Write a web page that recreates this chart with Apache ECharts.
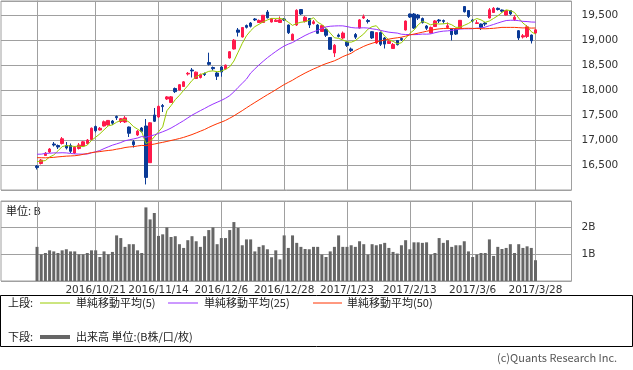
<!DOCTYPE html>
<html><head><meta charset="utf-8">
<script src="https://cdn.jsdelivr.net/npm/echarts@6/dist/echarts.min.js"></script>
<style>html,body{margin:0;padding:0;background:#fff}#c{width:633px;height:370px}</style>
</head><body><div id="c"></div>
<script>
const dates = ["2016/9/30",
"2016/10/3","2016/10/4","2016/10/5","2016/10/6","2016/10/7","2016/10/11","2016/10/12","2016/10/13","2016/10/14","2016/10/17","2016/10/18","2016/10/19","2016/10/20","2016/10/21","2016/10/24","2016/10/25","2016/10/26","2016/10/27","2016/10/28","2016/10/31",
"2016/11/1","2016/11/2","2016/11/4","2016/11/7","2016/11/8","2016/11/9","2016/11/10","2016/11/11","2016/11/14","2016/11/15","2016/11/16","2016/11/17","2016/11/18","2016/11/21","2016/11/22","2016/11/24","2016/11/25","2016/11/28","2016/11/29","2016/11/30",
"2016/12/1","2016/12/2","2016/12/5","2016/12/6","2016/12/7","2016/12/8","2016/12/9","2016/12/12","2016/12/13","2016/12/14","2016/12/15","2016/12/16","2016/12/19","2016/12/20","2016/12/21","2016/12/22","2016/12/26","2016/12/27","2016/12/28","2016/12/29","2016/12/30",
"2017/1/4","2017/1/5","2017/1/6","2017/1/10","2017/1/11","2017/1/12","2017/1/13","2017/1/16","2017/1/17","2017/1/18","2017/1/19","2017/1/20","2017/1/23","2017/1/24","2017/1/25","2017/1/26","2017/1/27","2017/1/30","2017/1/31",
"2017/2/1","2017/2/2","2017/2/3","2017/2/6","2017/2/7","2017/2/8","2017/2/9","2017/2/10","2017/2/13","2017/2/14","2017/2/15","2017/2/16","2017/2/17","2017/2/20","2017/2/21","2017/2/22","2017/2/23","2017/2/24","2017/2/27","2017/2/28",
"2017/3/1","2017/3/2","2017/3/3","2017/3/6","2017/3/7","2017/3/8","2017/3/9","2017/3/10","2017/3/13","2017/3/14","2017/3/15","2017/3/16","2017/3/17","2017/3/21","2017/3/22","2017/3/23","2017/3/24","2017/3/27","2017/3/28"];

const opens = [16480,16530,16690,16760,16920,16890,16930,16890,16890,16740,
16830,16880,16930,17010,17270,17200,17280,17300,17380,17470,
17370,17360,17260,16966,17100,17240,17280,16546,17500,17460,
17690,17820,17750,18030,18000,18070,18320,18400,18230,18250,
18330,18550,18450,18340,18460,18420,18640,18820,19200,19060,
19290,19340,19420,19350,19350,19560,19360,19370,19350,19420,
19300,19000,19300,19610,19370,19430,19330,19300,19170,19213,
19050,18740,19100,19040,18960,18820,19110,19240,19440,19390,
19166,18940,19150,19040,18930,18830,18990,19030,19200,19520,
19520,19500,19430,19280,19140,19270,19400,19390,19250,19220,
19220,19240,19670,19590,19400,19330,19320,19340,19440,19550,
19633,19600,19500,19590,19410,19186,19060,19070,19100,19140];

const closes = [16449.84,16598.67,16735.65,16819.24,16899.10,16860.09,17024.76,16840.00,16774.24,16856.37,
16900.12,16963.61,16998.91,17235.02,17184.59,17234.42,17365.25,17391.84,17336.42,17446.41,
17425.02,17442.40,17134.68,16905.36,17177.21,17171.38,16251.54,17344.42,17374.79,17672.62,
17668.15,17862.21,17862.63,17967.41,18106.02,18162.94,18333.41,18381.22,18356.89,18307.04,
18308.48,18513.12,18426.08,18274.99,18360.54,18496.69,18765.47,18996.37,19155.03,19250.52,
19253.61,19273.79,19401.15,19391.60,19494.53,19444.49,19427.67,19396.64,19403.06,19401.72,
19145.14,19114.37,19594.16,19520.69,19454.33,19301.44,19364.67,19134.70,19287.28,19095.24,
18813.53,18894.37,19072.25,19137.91,18891.03,18787.99,19057.50,19402.39,19467.40,19368.85,
19041.34,19148.08,18914.58,18918.20,18976.71,18910.78,18907.67,19007.60,19378.93,19459.15,
19238.98,19437.98,19347.53,19234.62,19251.08,19381.44,19379.87,19371.46,19283.54,19107.47,
19118.99,19393.54,19564.80,19469.17,19379.14,19344.15,19254.03,19318.58,19604.61,19633.75,
19609.50,19577.38,19590.14,19521.59,19455.88,19041.38,19085.31,19262.53,18985.59,19202.87];

const lows = [16410,16510,16680,16740,16870,16820,16910,16810,16740,16720,
16810,16860,16910,16990,17150,17190,17270,17290,17300,17400,
17340,17340,17060,16850,17080,17150,16111,16540,17360,17440,
17560,17800,17740,17940,17990,18060,18290,18250,18220,18230,
18280,18490,18390,18200,18266,18410,18630,18810,19070,19050,
19230,19250,19380,19340,19340,19430,19350,19360,19340,19380,
19120,18990,19280,19500,19350,19240,19310,19120,19160,19060,
18800,18660,19050,19020,18860,18760,19020,19230,19420,19330,
19020,18920,18880,18830,18920,18820,18890,18980,19190,19440,
19220,19400,19330,19200,19130,19260,19340,19330,19220,18990,
19100,19230,19550,19440,19350,19320,19200,19280,19430,19540,
19590,19550,19490,19500,19380,19000,19030,19040,18930,19120];

const highs = [16500,16620,16760,16840,16960,16910,17060,16960,16930,16880,
16940,16980,17020,17250,17290,17260,17390,17400,17400,17490,
17440,17480,17270,17000,17200,17260,17420,17360,17640,17690,
17720,17880,17880,18050,18120,18180,18360,18440,18370,18330,
18350,18746,18470,18360,18480,18510,18780,19020,19240,19260,
19310,19360,19440,19410,19500,19600,19440,19420,19470,19440,
19310,19130,19615,19615,19480,19440,19400,19320,19300,19230,
19060,18920,19130,19170,18980,18850,19140,19420,19510,19420,
19180,19160,19170,19060,19000,18940,19000,19050,19390,19530,
19540,19520,19450,19300,19270,19400,19420,19410,19350,19230,
19230,19400,19680,19600,19420,19400,19330,19360,19640,19660,
19650,19610,19600,19600,19500,19200,19120,19300,19110,19220];

// volume in B shares
const volumes = [1.28,1.00,1.05,1.15,1.11,1.05,1.15,1.19,1.11,1.11,
1.00,1.00,1.05,1.15,1.15,0.90,1.11,1.00,1.09,1.71,
1.61,1.28,1.38,1.38,1.15,1.05,2.76,2.31,2.55,1.69,
1.75,2.01,1.65,1.68,1.38,1.24,1.53,1.68,1.49,1.28,
1.68,1.91,2.01,1.38,1.61,1.61,1.91,2.21,1.99,1.34,
1.56,1.56,1.11,1.28,1.34,1.19,0.89,1.15,0.81,1.71,
1.24,1.71,1.43,1.28,1.20,1.19,1.28,1.28,0.99,0.90,
1.11,1.28,1.71,1.28,1.28,1.34,1.28,1.49,1.38,0.99,
1.38,1.34,1.38,1.43,1.24,1.09,1.03,1.34,1.53,1.19,
1.45,1.45,1.43,1.45,0.99,1.05,1.61,1.43,1.53,1.28,
1.34,1.34,1.49,1.11,0.90,0.99,1.05,1.05,1.56,0.94,
1.28,1.20,1.24,1.38,1.05,1.38,1.24,1.30,1.24,0.78];

// closes of the 49 sessions before the first shown day (feed the moving averages)
const priorCloses = [16681,16811,16627,16620,16383,16664,16477,16569,
16635,16391,16083,16254,16254,16650,16764,16735,16919,16869,16596,16746,16486,16545,16598,16497,16597,16556,16360,16737,16725,16887,
16926,16925,17037,17082,17012,16959,16965,16672,16613,16614,16405,16519,16492,16807,16754,16545,16684,16465,16694];

const tickDates = ["2016/10/21","2016/11/14","2016/12/6","2016/12/28","2017/1/23","2017/2/13","2017/3/6","2017/3/28"];
const maPeriods = [5, 25, 50];
const maNames = ["単純移動平均(5)", "単純移動平均(25)", "単純移動平均(50)"];
const maColors = ["#99cc00", "#9933ff", "#ff3300"];

const allCloses = priorCloses.concat(closes);
function movingAverage(n) {
  return closes.map((c, i) => {
    const end = priorCloses.length + i;
    let s = 0;
    for (let k = end - n + 1; k <= end; k++) s += allCloses[k];
    return [i, +(s / n).toFixed(2)];
  });
}
const candleData = closes.map((c, i) => [i, opens[i], c, lows[i], highs[i]]);
const volData = volumes.map((v, i) => [i, v]);
const tickIdx = tickDates.map(d => dates.indexOf(d));

const GRID_L = 1, GRID_R = 61.5;
const XMIN = -8.6, XMAX = 127.6;
const gridColor = '#a0a0a0';
const labelFont = 'DejaVu Sans';
const jpFont = '"Noto Sans CJK JP"';

function xAxisCfg(gridIndex, showLabels) {
  return {
    type: 'value', gridIndex, min: XMIN, max: XMAX,
    axisLine: {show: false},
    axisTick: {show: true, length: 0, customValues: tickIdx, lineStyle: {color: gridColor}},
    splitLine: {show: true, lineStyle: {color: gridColor, width: 1}},
    axisLabel: {show: showLabels, customValues: tickIdx, margin: 4, fontSize: 10.5, fontFamily: labelFont, color: '#333',
      formatter: v => dates[Math.round(v)] || ''}
  };
}

const chart = echarts.init(document.getElementById('c'), null, {renderer: 'canvas'});
const series = [{
  type: 'candlestick', xAxisIndex: 0, yAxisIndex: 0, data: candleData,
  encode: {x: 0, y: [1, 2, 3, 4]}, barWidth: 3,
  itemStyle: {color: '#ff1a4b', color0: '#0a3a96', borderColor: '#ff1a4b', borderColor0: '#0a3a96', borderWidth: 1}
}];
maPeriods.forEach((p, k) => {
  series.push({type: 'line', name: maNames[k], xAxisIndex: 0, yAxisIndex: 0, data: movingAverage(p),
    showSymbol: false, symbol: 'none', lineStyle: {color: maColors[k], width: 1}, z: 3});
});
series.push({type: 'bar', xAxisIndex: 1, yAxisIndex: 1, data: volData, barWidth: 3,
  itemStyle: {color: '#666666'}});

const legendY1 = 303, legendY2 = 337;
const txt = (t, x, y, size, fill, fam) => ({type: 'text', left: undefined, x, y,
  style: {text: t, x: 0, y: 0, fill: fill || '#222', font: (size || 11) + 'px ' + (fam || jpFont), verticalAlign: 'middle', align: 'left'}});
const ln = (x1, x2, y, color, w) => ({type: 'line', shape: {x1, y1: y, x2, y2: y}, style: {stroke: color, lineWidth: w}});

chart.setOption({
  animation: false,
  backgroundColor: '#ffffff',
  grid: [
    {left: GRID_L, right: GRID_R, top: 1, height: 189, show: true, borderColor: gridColor, borderWidth: 1, backgroundColor: 'transparent'},
    {left: GRID_L, right: GRID_R, top: 201, height: 80, show: true, borderColor: gridColor, borderWidth: 1, backgroundColor: 'transparent'}
  ],
  xAxis: [xAxisCfg(0, false), xAxisCfg(1, true)],
  yAxis: [
    {type: 'value', gridIndex: 0, position: 'right', min: 16000, max: 19780, interval: 500,
      axisLine: {show: true, lineStyle: {color: gridColor}},
      axisTick: {show: true, length: 4, lineStyle: {color: gridColor}},
      splitLine: {show: true, lineStyle: {color: gridColor}},
      axisLabel: {showMinLabel: false, showMaxLabel: false, margin: 10, fontSize: 10.5, fontFamily: labelFont, color: '#333',
        formatter: v => v.toLocaleString('en-US')}},
    {type: 'value', gridIndex: 1, position: 'right', min: 0, max: 3, interval: 1,
      axisLine: {show: true, lineStyle: {color: gridColor}},
      axisTick: {show: true, length: 4, lineStyle: {color: gridColor}},
      splitLine: {show: true, lineStyle: {color: gridColor}},
      axisLabel: {showMinLabel: false, showMaxLabel: false, margin: 10, fontSize: 10.5, fontFamily: labelFont, color: '#333',
        formatter: v => v + 'B'}}
  ],
  series,
  graphic: [
    txt('単位: B', 6, 211, 11, '#222'),
    {type: 'rect', shape: {x: 0.5, y: 295.5, width: 632, height: 51}, style: {fill: 'none', stroke: '#000', lineWidth: 1}},
    txt('上段:', 8, legendY1), ln(40, 70, legendY1, maColors[0], 1), txt(maNames[0], 76, legendY1),
    ln(168, 198, legendY1, maColors[1], 1), txt(maNames[1], 204, legendY1),
    ln(313, 342, legendY1, maColors[2], 1), txt(maNames[2], 347, legendY1),
    txt('下段:', 8, legendY2), ln(40, 70, legendY2, '#666666', 4), txt('出来高 単位:(B株/口/枚)', 76, legendY2),
    txt('(c)Quants Research Inc.', 497, 358, 11, '#555')
  ]
});
</script></body></html>
